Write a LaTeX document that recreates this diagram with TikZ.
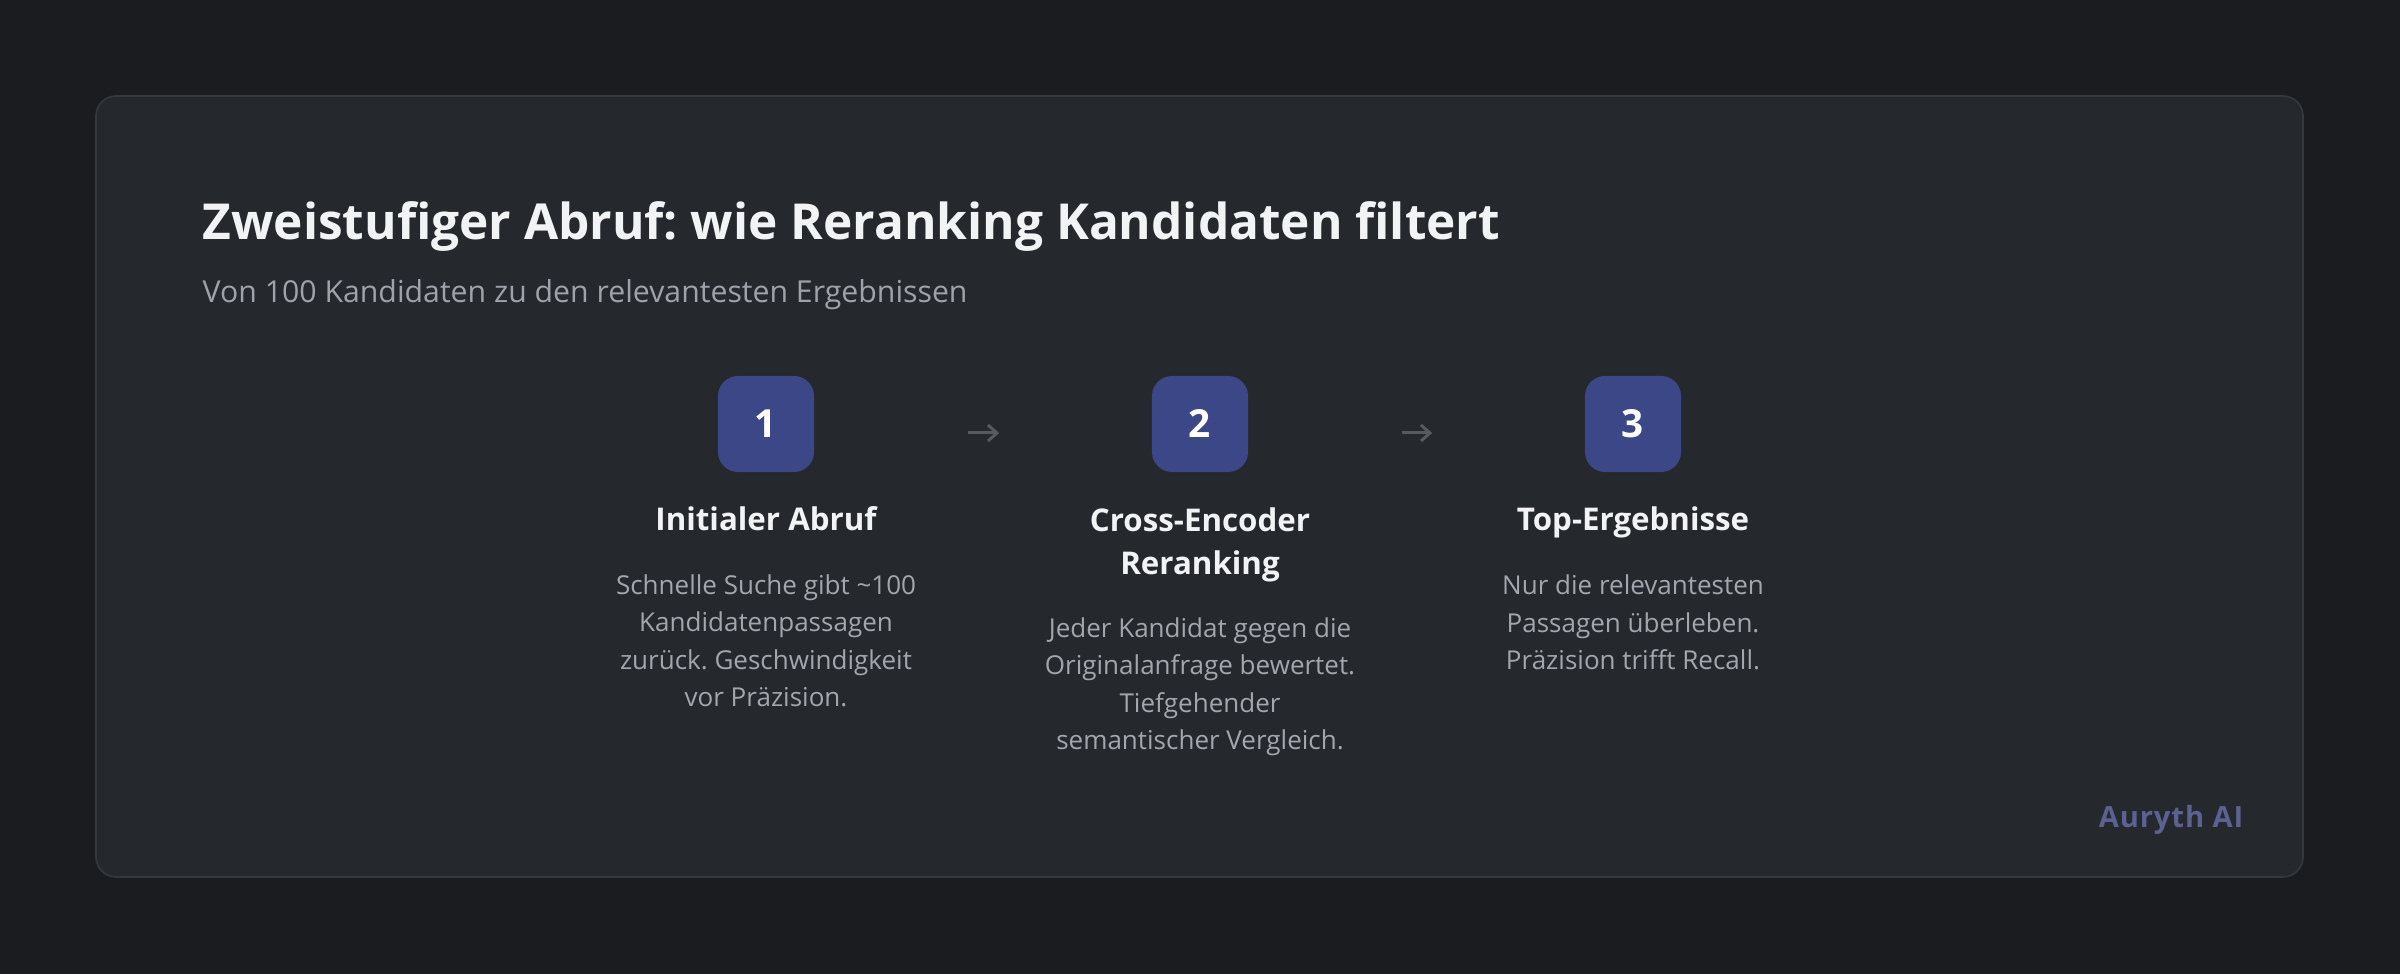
\documentclass[tikz,border=0pt]{standalone}
\usepackage{fontspec}
\setmainfont{Open Sans}
\newfontfamily\brandfont[LetterSpace=3]{Open Sans}
\usepackage{tikz}
\usetikzlibrary{arrows.meta}
\frenchspacing
\definecolor{pagebg}{HTML}{1B1C1F}
\definecolor{cardbg}{HTML}{25282D}
\definecolor{cardline}{HTML}{35383E}
\definecolor{stepfill}{HTML}{3C4788}
\definecolor{headtext}{HTML}{F2F3F5}
\definecolor{subtext}{HTML}{9EA2AA}
\definecolor{desctext}{HTML}{A3A6AD}
\definecolor{arrowgrey}{HTML}{575A60}
\definecolor{brandtext}{HTML}{5B6190}
\def\descfont{\fontsize{7.4pt}{10.67pt}\selectfont}
\tikzset{
  stepbox/.style={fill=stepfill, rounded corners=0.2cm, minimum size=0.96cm, inner sep=0pt,
    text=white, font=\fontsize{11pt}{13pt}\selectfont\bfseries},
  steptitle/.style={text=headtext, align=center, inner sep=0pt,
    font=\fontsize{8.9pt}{12.5pt}\selectfont\bfseries},
  stepdesc/.style={text=desctext, align=center, inner sep=0pt, font=\descfont},
  flowarrow/.style={arrowgrey, line width=0.85pt, -{Straight Barb[length=0.9mm, width=1.6mm]},
    shorten <=1.53cm, shorten >=1.52cm}
}

\begin{document}
\begin{tikzpicture}[x=0.01cm, y=-0.01cm]
			%%%%% START %%%%%
			
			\useasboundingbox (0, 0) rectangle (2400, 974);
			\fill[pagebg] (0, 0) rectangle (2400, 974);
			\draw[fill=cardbg, draw=cardline, line width=0.45pt, rounded corners=0.2cm] (96, 96) rectangle (2303, 877);
			
			\node[anchor=base west, inner sep=0pt, text=headtext, font=\fontsize{14.1pt}{17pt}\selectfont\bfseries] (heading) at (202, 240) {Zweistufiger Abruf: wie Reranking Kandidaten filtert};
			\node[anchor=base west, inner sep=0pt, text=subtext, font=\fontsize{8.6pt}{10pt}\selectfont] (subheading) at (202, 303) {Von 100 Kandidaten zu den relevantesten Ergebnissen};
			
			\node[stepbox] (box1) at (766, 424) {1};
			\node[stepbox] (box2) at (1200, 424) {2};
			\node[stepbox] (box3) at (1633, 424) {3};
			
			\draw[flowarrow] ([yshift=-0.09cm]box1.east) -- ([yshift=-0.09cm]box2.west);
			\draw[flowarrow] ([yshift=-0.09cm]box2.east) -- ([yshift=-0.09cm]box3.west);
			
			% base sits on the last line
			\node[steptitle, anchor=base] (title1) at (766, 531) {Initialer Abruf};
			\node[steptitle, anchor=base] (title2) at (1200, 575) {Cross-Encoder\\Reranking};
			\node[steptitle, anchor=base] (title3) at (1633, 531) {Top-Ergebnisse};
			
			\node[stepdesc, anchor=base] (desc1) at (766, 707) {Schnelle Suche gibt \textasciitilde100\\Kandidatenpassagen\\zurück. Geschwindigkeit\\vor Präzision.};
			\node[stepdesc, anchor=base] (desc2) at (1200, 750) {Jeder Kandidat gegen die\\Originalanfrage bewertet.\\Tiefgehender\\semantischer Vergleich.};
			\node[stepdesc, anchor=base] (desc3) at (1633, 670) {Nur die relevantesten\\Passagen überleben.\\Präzision trifft Recall.};
			
			\node[anchor=base east, inner sep=0pt, text=brandtext, font=\fontsize{8.3pt}{10pt}\brandfont\bfseries] (brand) at (2244, 828) {Auryth AI};
			
			%%%%% END %%%%%
		\end{tikzpicture}
\end{document}
